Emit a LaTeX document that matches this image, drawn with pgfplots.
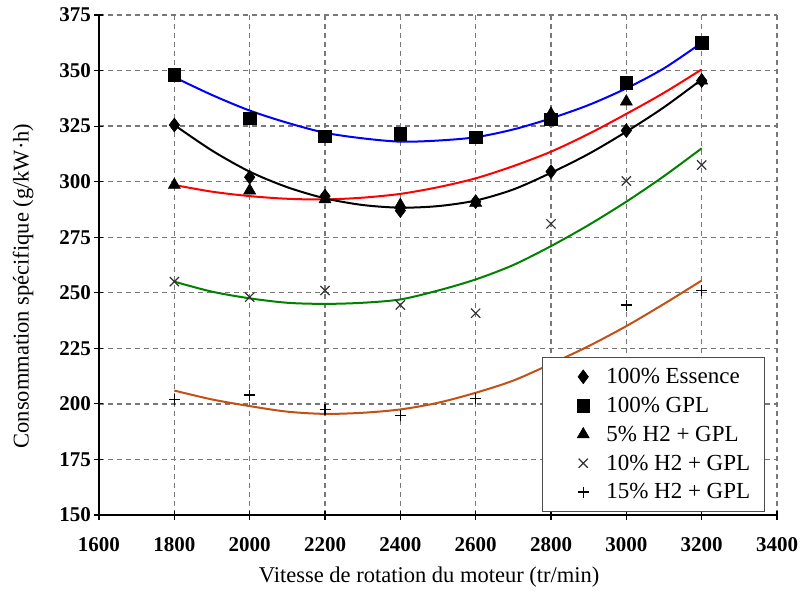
\documentclass[border=0pt]{standalone}
\usepackage{pgfplots}
\pgfplotsset{compat=1.18}
\usepackage{pgfplotstable}
\usepackage{fontspec}
\setmainfont{Liberation Serif}
\definecolor{cbrown}{RGB}{195,80,20}
\definecolor{cgreen}{RGB}{0,130,0}
\definecolor{ggrid}{RGB}{120,120,120}

\pgfplotstableread{
x y
1800 325.5
2000 302
2200 293.5
2400 287
2600 291
2800 304.5
3000 323
3200 345.5
}\essence
\pgfplotstableread{
x y
1800 348
2000 328.5
2200 320.5
2400 321.5
2600 320
2800 328
3000 344.5
3200 362.5
}\gpl
\pgfplotstableread{
x y
1800 298.5
2000 296
2200 292
2400 289.5
2600 290.5
2800 330.5
3000 336
3200 345.5
}\hfive
\pgfplotstableread{
x y
1800 255
2000 248
2200 251
2400 244.5
2600 240.8
2800 281
3000 300.3
3200 307.5
}\hten
\pgfplotstableread{
x y
1800 202
2000 204
2200 197.5
2400 194.8
2600 202.5
2800 212
3000 244.5
3200 251.2
}\hfifteen

\pgfplotstableread{
x y
1800 347
1900 339
2000 332
2100 326.5
2200 322
2300 319.5
2400 318
2500 318.5
2600 320
2700 323.5
2800 328.5
2900 334.5
3000 342
3100 351
3200 362.5
}\fitgpl
\pgfplotstableread{
x y
1800 298.5
1900 295.5
2000 293.5
2100 292.3
2200 292
2300 292.8
2400 294.5
2500 297.5
2600 301.5
2700 307
2800 313.5
2900 321.5
3000 330.5
3100 340
3200 350.5
}\fitfive
\pgfplotstableread{
x y
1800 325.5
1900 314
2000 304.5
2100 297.5
2200 292.5
2300 289.5
2400 288.3
2500 289
2600 291.5
2700 296.5
2800 304
2900 312.5
3000 322.5
3100 333.5
3200 346
}\fitess
\pgfplotstableread{
x y
1800 255
1900 250.5
2000 247.5
2100 245.5
2200 245
2300 245.5
2400 247
2500 251
2600 256
2700 262.5
2800 271
2900 280.5
3000 291
3100 302.5
3200 315
}\fitten
\pgfplotstableread{
x y
1800 206
1900 202
2000 199
2100 196.5
2200 195.5
2300 196
2400 197.5
2500 200.5
2600 205
2700 210.5
2800 218
2900 226
3000 235
3100 245
3200 255.5
}\fitfifteen

\pgfplotsset{
  mk/.style={only marks,
    legend image code/.code={\path[draw=none,fill=none] (-7pt,-1pt) rectangle (43pt,1pt); \draw[##1,/tikz/only marks] plot coordinates {(22pt,0pt)};}},
}

\begin{document}
\begin{tikzpicture}
\useasboundingbox (-99pt,-77pt) rectangle (702pt,515pt);
\begin{axis}[
  at={(0,0)}, anchor=south west,
  scale only axis, width=678pt, height=500pt,
  xmin=1600, xmax=3400, ymin=150, ymax=375,
  xtick={1600,1800,...,3400}, ytick={150,175,...,375},
  enlargelimits=false,
  axis x line=bottom, axis y line=left,
  axis line style={-, line width=1.2pt, black},
  tick align=center, major tick length=9pt,
  tick style={line width=1.1pt, black},
  grid=major,
  major grid style={ggrid, line width=1.3pt, dash pattern=on 5pt off 4pt},
  /pgf/number format/assume math mode=true,
  /pgf/number format/1000 sep={},
  ticklabel style={font=\fontsize{21}{24}\selectfont\bfseries},
  xticklabel style={yshift=-14pt},
  xlabel={Vitesse de rotation du moteur (tr/min)},
  ylabel={Consommation spécifique (g/kW·h)},
  label style={font=\fontsize{22.5}{26}\selectfont},
  xlabel style={at={(axis description cs:0.487,-0.124)}, anchor=center},
  ylabel style={at={(axis description cs:-0.112,0.458)}, anchor=center, rotate=0},
  legend cell align=left,
  legend style={at={(axis description cs:0.982,0.006)}, anchor=south east,
    draw=black!70, line width=1.2pt, fill=white, inner xsep=12pt, inner ysep=9pt,
    font=\fontsize{23}{26}\selectfont, row sep=8pt},
]
\addplot[blue, line width=2pt, smooth, forget plot] table {\fitgpl};
\addplot[red, line width=2pt, smooth, forget plot] table {\fitfive};
\addplot[black, line width=2pt, smooth, forget plot] table {\fitess};
\addplot[cgreen, line width=2pt, smooth, forget plot] table {\fitten};
\addplot[cbrown, line width=2pt, smooth, forget plot] table {\fitfifteen};

\addplot[mk, mark=diamond*, mark size=7pt, black, mark options={line width=0.5pt}] table {\essence};
\addlegendentry{100\% Essence}
\addplot[mk, mark=square*, mark size=6.3pt, black, mark options={line width=0.5pt}] table {\gpl};
\addlegendentry{100\% GPL}
\addplot[mk, mark=triangle*, mark size=7pt, black, mark options={line width=0.5pt}] table {\hfive};
\addlegendentry{5\% H2 + GPL}
\addplot[mk, mark=x, mark size=6.5pt, black!80, mark options={line width=1.2pt}] table {\hten};
\addlegendentry{10\% H2 + GPL}
\addplot[mk, mark=+, mark size=5.5pt, black, mark options={line width=1.1pt}] table {\hfifteen};
\addlegendentry{15\% H2 + GPL}
\end{axis}
\end{tikzpicture}
\end{document}
